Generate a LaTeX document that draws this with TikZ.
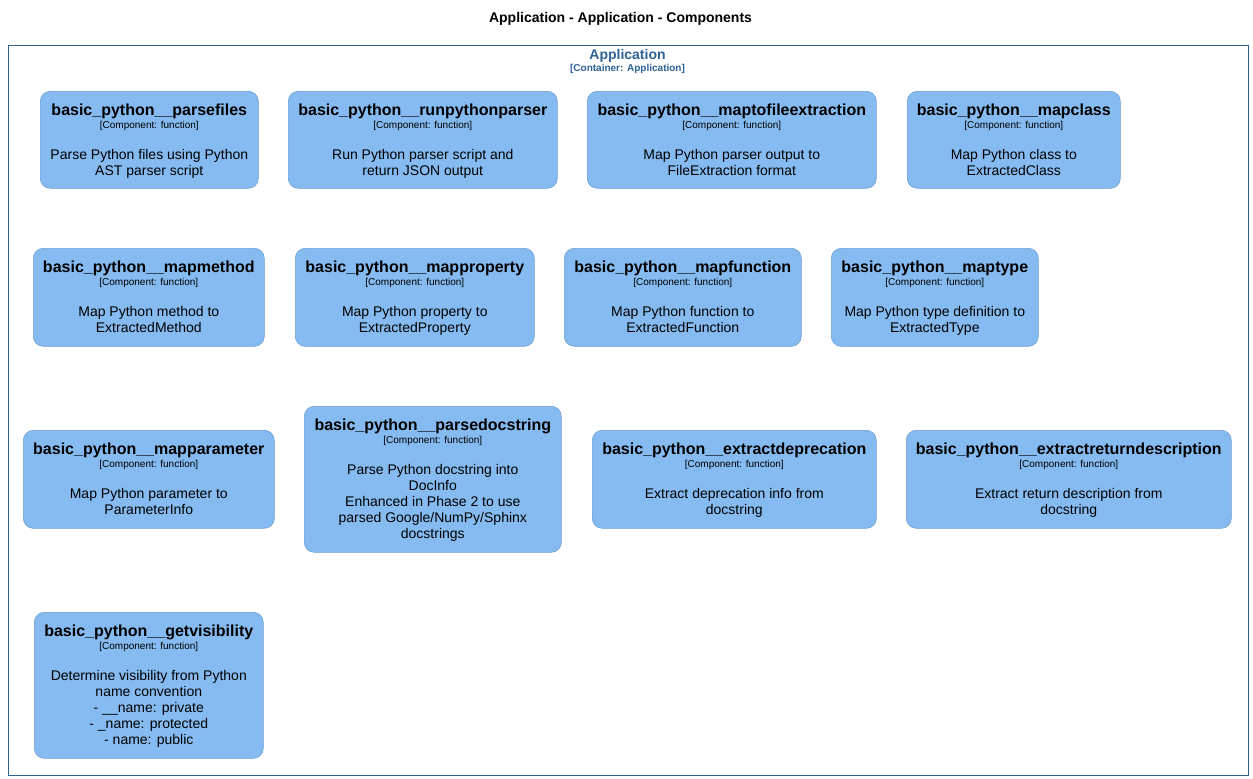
\documentclass[tikz,border=0pt]{standalone}
\usepackage{fontspec}
\setmainfont{Liberation Sans}
\definecolor{compfill}{HTML}{85BBF0}
\definecolor{compdraw}{HTML}{6F9FD2}
\definecolor{contblue}{HTML}{2E6295}
\tikzset{
  compbox/.style={draw=compdraw, fill=compfill, rounded corners=10pt, line width=0.6pt, inner sep=0pt, anchor=north west},
  ctitle/.style={font=\bfseries\fontsize{16}{18}\selectfont, anchor=base, inner sep=0pt},
  ctype/.style={font=\fontsize{10}{12}\selectfont, anchor=base, inner sep=0pt},
  cdesc/.style={font=\fontsize{14}{16}\selectfont, anchor=base, align=center, inner sep=0pt},
}
% #8 = offset of the LAST description line's baseline below the box top
\newcommand\comp[8]{%
  \node[compbox, minimum width={(#4-#2)*1pt}, minimum height={(#5-#3)*1pt}] (#1) at (#2,#3) {};
  \node[ctitle] (#1-t) at ([yshift=-24pt]#1.north) {#6};
  \node[ctype] (#1-k) at ([yshift=-37.5pt]#1.north) {[Component: function]};
  \node[cdesc] (#1-d) at ([yshift=-#8pt]#1.north) {#7};
}
\begin{document}
\begin{tikzpicture}[x=1pt,y=-1pt]
\useasboundingbox (0,0) rectangle (1253,779);
\fill[white] (0,0) rectangle (1253,779);
\node[font=\bfseries\fontsize{14}{16}\selectfont, anchor=base, inner sep=0pt] (title) at (620.5,23) {Application - Application - Components};
\node[draw=contblue, line width=0.9pt, minimum width=1240pt, minimum height=730pt, anchor=north west, inner sep=0pt] (cont) at (7.5,44.5) {};
\node[font=\bfseries\fontsize{14}{16}\selectfont, text=contblue, anchor=base, inner sep=0pt] (contname) at (627.5,59) {Application};
\node[font=\bfseries\fontsize{10}{12}\selectfont, text=contblue, anchor=base, inner sep=0pt] (contkind) at (627.5,71.5) {[Container: Application]};

\comp{pf}{40}{91}{258}{188}{basic\_python\_\_parsefiles}{Parse Python files using Python\\AST parser script}{84}
\comp{rp}{288}{91}{557}{188}{basic\_python\_\_runpythonparser}{Run Python parser script and\\return JSON output}{84}
\comp{mfe}{587}{91}{876}{188}{basic\_python\_\_maptofileextraction}{Map Python parser output to\\FileExtraction format}{84}
\comp{mc}{907}{91}{1120}{188}{basic\_python\_\_mapclass}{Map Python class to\\ExtractedClass}{84}

\comp{mm}{33}{248}{264}{346}{basic\_python\_\_mapmethod}{Map Python method to\\ExtractedMethod}{84}
\comp{mp}{295}{248}{534}{346}{basic\_python\_\_mapproperty}{Map Python property to\\ExtractedProperty}{84}
\comp{mf}{564}{248}{801}{346}{basic\_python\_\_mapfunction}{Map Python function to\\ExtractedFunction}{84}
\comp{mt}{831}{248}{1038}{346}{basic\_python\_\_maptype}{Map Python type definition to\\ExtractedType}{84}

\comp{mpa}{23}{430}{274}{528}{basic\_python\_\_mapparameter}{Map Python parameter to\\ParameterInfo}{84}
\comp{pd}{304}{406}{561}{552}{basic\_python\_\_parsedocstring}{Parse Python docstring into\\DocInfo\\Enhanced in Phase 2 to use\\parsed Google/NumPy/Sphinx\\docstrings}{132}
\comp{ed}{592}{430}{876}{528}{basic\_python\_\_extractdeprecation}{Extract deprecation info from\\docstring}{84}
\comp{erd}{906}{430}{1231}{528}{basic\_python\_\_extractreturndescription}{Extract return description from\\docstring}{84}

\comp{gv}{34}{612}{263}{758}{basic\_python\_\_getvisibility}{Determine visibility from Python\\name convention\\- \_\_name: private\\- \_name: protected\\- name: public}{132}
\end{tikzpicture}
\end{document}
